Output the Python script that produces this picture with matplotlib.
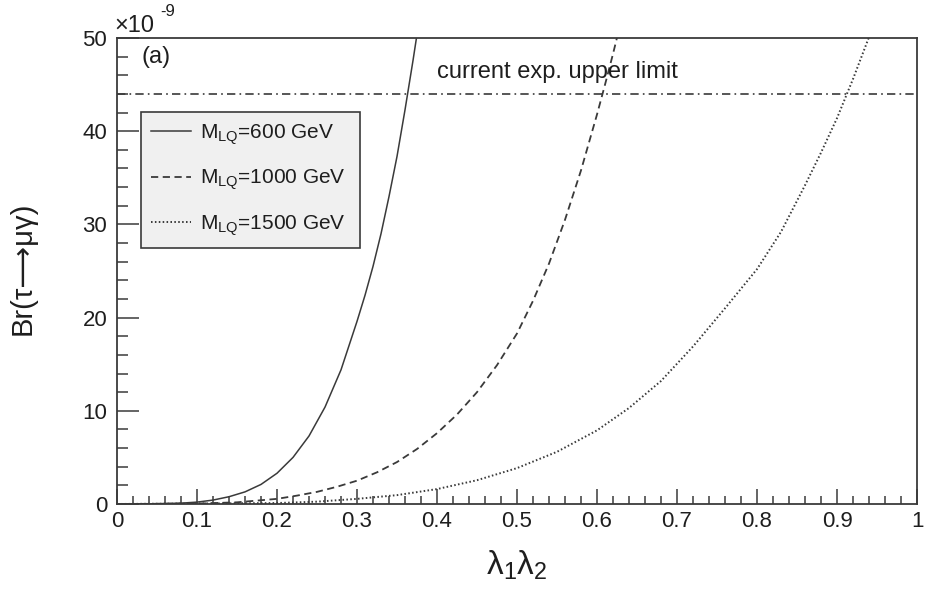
import matplotlib
matplotlib.use("Agg")
import matplotlib.pyplot as plt
from matplotlib.ticker import MultipleLocator

plt.rcParams['font.family'] = ['Liberation Sans', 'DejaVu Sans']
plt.rcParams['mathtext.fontset'] = 'custom'
plt.rcParams['mathtext.rm'] = 'Liberation Sans'
plt.rcParams['mathtext.it'] = 'Liberation Sans:italic'

# Br(tau -> mu gamma) in units of 1e-9 versus lambda1*lambda2
lam_600 = [0.0, 0.04, 0.08, 0.10, 0.12, 0.14, 0.16, 0.18, 0.20, 0.22, 0.24, 0.26, 0.28,
           0.30, 0.31, 0.32, 0.33, 0.34, 0.35, 0.36, 0.37, 0.375, 0.38]
br_600 = [0.0, 0.01, 0.09, 0.2, 0.42, 0.78, 1.3, 2.1, 3.3, 5.0, 7.3, 10.4, 14.4,
          19.6, 22.4, 25.5, 29.0, 33.0, 37.3, 42.3, 47.6, 50.4, 53.3]

lam_1000 = [0.0, 0.10, 0.15, 0.20, 0.225, 0.25, 0.275, 0.30, 0.325, 0.35, 0.375, 0.40,
            0.425, 0.45, 0.475, 0.50, 0.52, 0.54, 0.56, 0.58, 0.60, 0.61, 0.62, 0.63]
br_1000 = [0.0, 0.04, 0.18, 0.55, 0.9, 1.3, 1.85, 2.5, 3.4, 4.5, 5.9, 7.6,
           9.6, 12.0, 14.9, 18.3, 21.8, 25.8, 30.5, 35.8, 41.8, 45.0, 48.3, 51.8]

lam_1500 = [0.0, 0.20, 0.25, 0.30, 0.35, 0.40, 0.45, 0.50, 0.55, 0.60, 0.64, 0.68, 0.72,
            0.76, 0.80, 0.83, 0.86, 0.88, 0.90, 0.92, 0.94, 0.95]
br_1500 = [0.0, 0.1, 0.25, 0.55, 0.95, 1.6, 2.55, 3.85, 5.6, 7.9, 10.3, 13.2, 16.9,
           21.0, 25.2, 29.2, 34.2, 37.7, 41.4, 45.6, 50.1, 52.6]

upper_limit = 44.0
labels = [r'M$_{\mathrm{LQ}}$=600 GeV', r'M$_{\mathrm{LQ}}$=1000 GeV', r'M$_{\mathrm{LQ}}$=1500 GeV']

line_col = '#3a3a3a'
text_col = '#1e1e1e'

fig = plt.figure(figsize=(9.34, 5.97), dpi=100)
ax = fig.add_axes([0.1253, 0.1558, 0.8565, 0.7805])

ax.plot(lam_600, br_600, color=line_col, lw=1.1, ls='-', label=labels[0])
ax.plot(lam_1000, br_1000, color=line_col, lw=1.3, ls=(0, (4, 2.5)), label=labels[1])
ax.plot(lam_1500, br_1500, color=line_col, lw=1.4, ls=(0, (0.8, 1.2)), label=labels[2])
ax.axhline(upper_limit, color=line_col, lw=1.2, ls=(0, (5, 2.5, 1, 2.5)))

ax.set_xlim(0, 1)
ax.set_ylim(0, 50)

# ROOT-like inward ticks on left/bottom only
ax.xaxis.set_major_locator(MultipleLocator(0.1))
ax.xaxis.set_minor_locator(MultipleLocator(0.02))
ax.yaxis.set_major_locator(MultipleLocator(10))
ax.yaxis.set_minor_locator(MultipleLocator(2))
ax.tick_params(axis='x', which='major', direction='in', length=10.8, width=1.1, pad=5,
               labelsize=16, colors=line_col, labelcolor=text_col)
ax.tick_params(axis='x', which='minor', direction='in', length=5.6, width=1.1, colors=line_col)
ax.tick_params(axis='y', which='major', direction='in', length=15.5, width=1.1, pad=7,
               labelsize=16, colors=line_col, labelcolor=text_col)
ax.tick_params(axis='y', which='minor', direction='in', length=8, width=1.1, colors=line_col)
ax.xaxis.set_major_formatter(plt.FuncFormatter(lambda v, p: '%g' % round(v, 2)))
ax.yaxis.set_major_formatter(plt.FuncFormatter(lambda v, p: '%g' % v))

for sp in ax.spines.values():
    sp.set_color(line_col)
    sp.set_linewidth(1.3)

ax.set_xlabel(r'λ$_{1}$λ$_{2}$', fontsize=24, color=text_col)
ax.xaxis.set_label_coords(0.5, -0.095)
ax.set_ylabel('Br(τ⟶μγ)', fontsize=21, color=text_col)
ax.yaxis.set_label_coords(-0.1, 0.506)

# exponent of the y axis
ax.text(-0.003, 1.003, '×10', transform=ax.transAxes, fontsize=17,
        color=text_col, ha='left', va='bottom')
ax.annotate('-9', xy=(0.0, 1.0), xycoords='axes fraction', xytext=(31, 14),
            textcoords='offset points', fontsize=12, color=text_col, ha='left', va='bottom')
ax.text(0.03, 0.959, '(a)', transform=ax.transAxes, fontsize=17,
        color=text_col, ha='left', va='center')
ax.text(0.40, 0.927, 'current exp. upper limit', transform=ax.transAxes, fontsize=17,
        color=text_col, ha='left', va='center')

leg = ax.legend(loc='upper left', bbox_to_anchor=(0.03, 0.841, 0.274, 0.0), mode='expand',
                fontsize=15, frameon=True, fancybox=False, framealpha=1,
                facecolor='#f0f0f0', edgecolor=line_col, borderpad=0.5,
                labelspacing=1.0, handlelength=1.9, handletextpad=0.45,
                borderaxespad=0.0)
leg.get_frame().set_linewidth(1.2)
for t in leg.get_texts():
    t.set_color(text_col)

fig.savefig('out.png', dpi=100)
